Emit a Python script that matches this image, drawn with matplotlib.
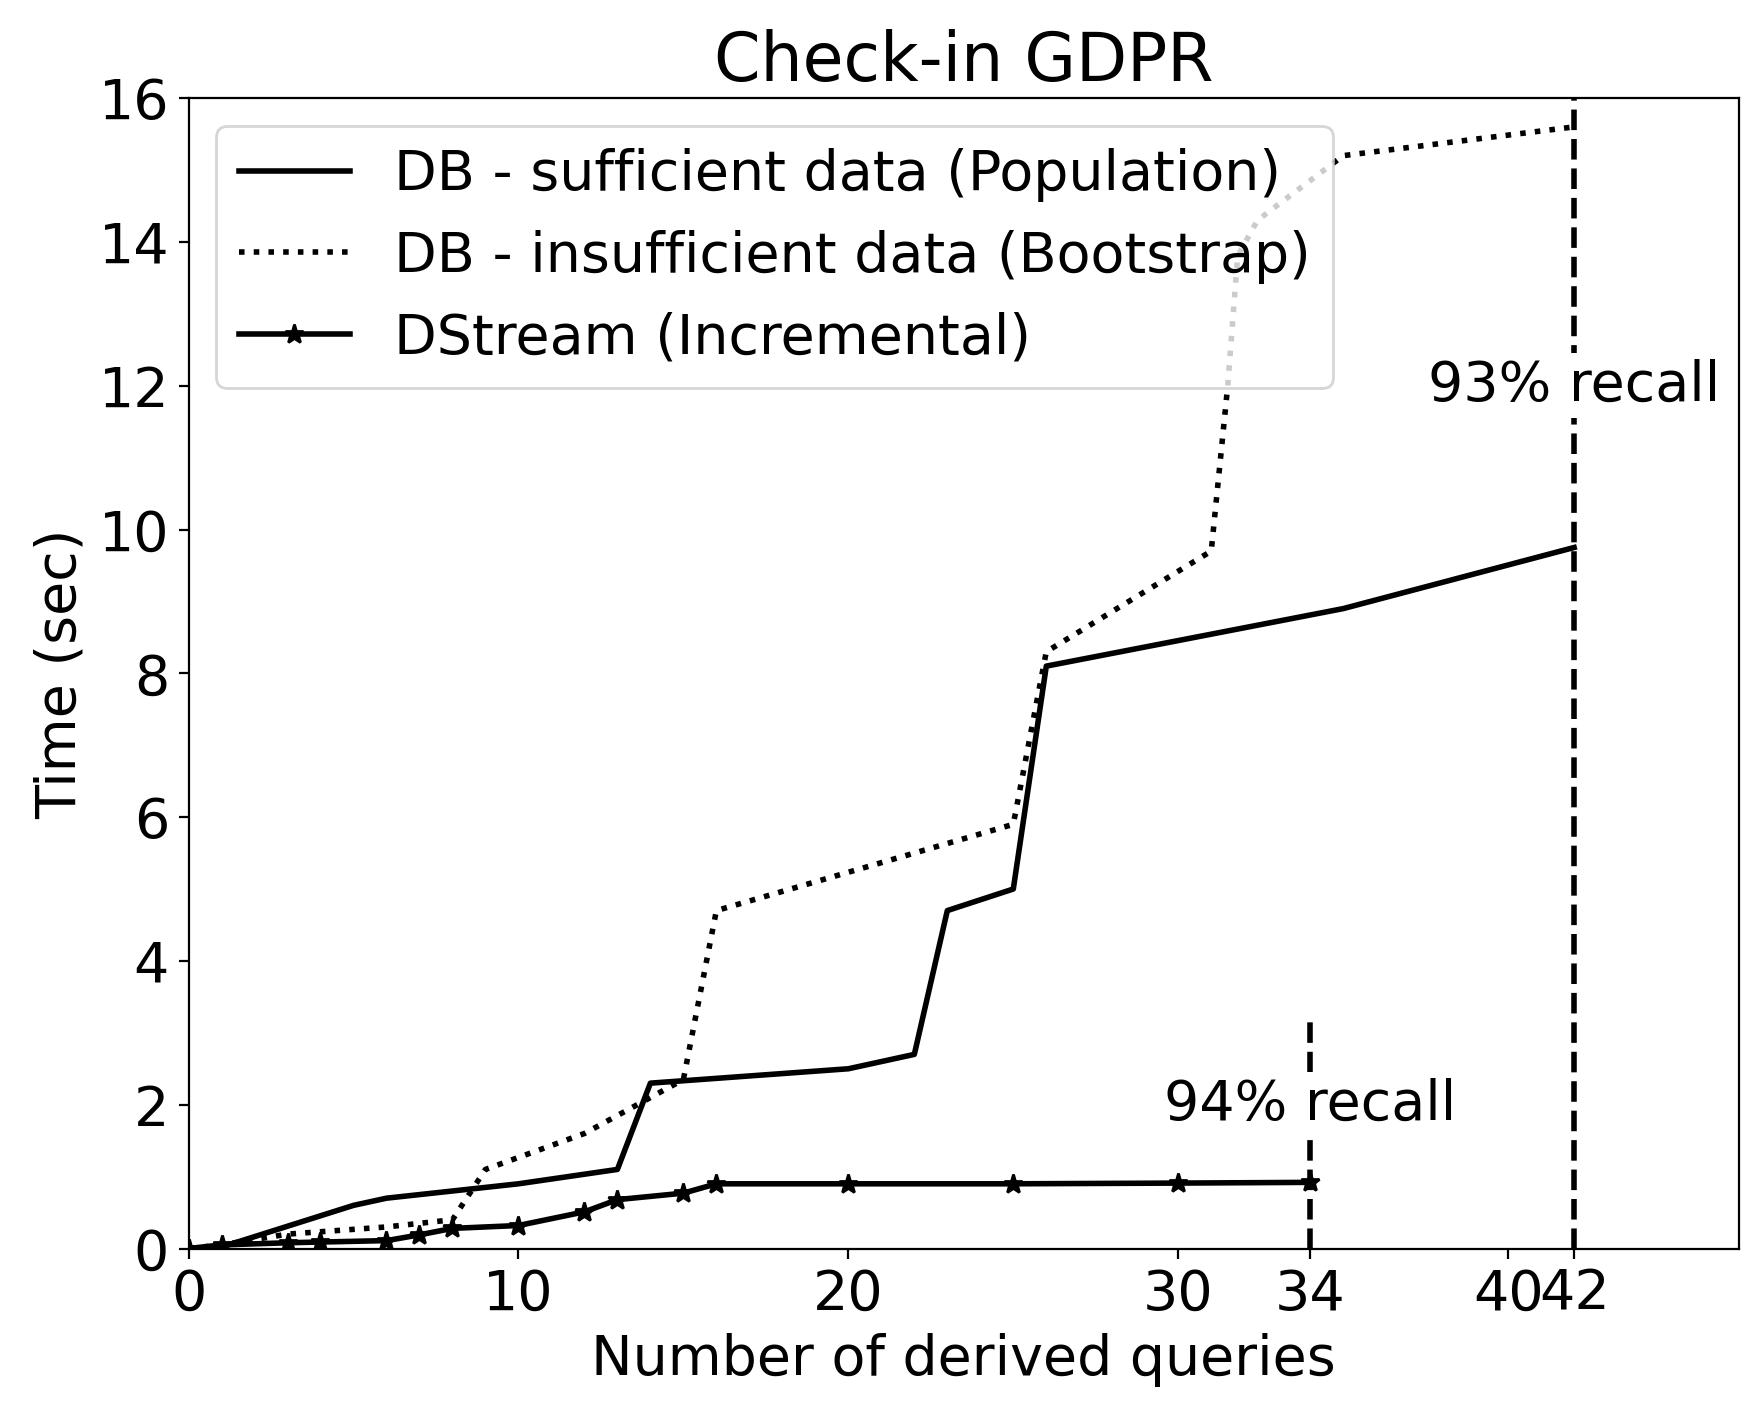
import numpy as np
import matplotlib
matplotlib.use("Agg")
import matplotlib.pyplot as plt

# DB - sufficient data (Population)
pop_x = [0, 1, 5, 6, 10, 13, 14, 20, 22, 23, 25, 26, 35, 42]
pop_y = [0, 0.02, 0.6, 0.7, 0.9, 1.1, 2.3, 2.5, 2.7, 4.7, 5.0, 8.1, 8.9, 9.75]

# DB - insufficient data (Bootstrap)
boot_x = [0, 1, 3, 6, 8, 9, 12, 13, 15, 16, 25, 26, 31, 31.5, 31.8, 32.4, 35, 42]
boot_y = [0, 0.05, 0.2, 0.3, 0.4, 1.1, 1.6, 1.85, 2.35, 4.7, 5.9, 8.3, 9.7, 12.0, 13.8, 14.3, 15.2, 15.6]

# DStream (Incremental)
ds_x = [0, 1, 3, 4, 6, 7, 8, 10, 12, 13, 15, 16, 20, 25, 30, 34]
ds_y = [0, 0.05, 0.08, 0.09, 0.11, 0.19, 0.28, 0.32, 0.51, 0.68, 0.77, 0.9, 0.9, 0.9, 0.91, 0.92]

recall_x = [34, 42]
recall_top = [3.2, 16]
recall_txt = ["94% recall", "93% recall"]
recall_txt_y = [2.0, 12.0]

xticks = [0, 10, 20, 30, 34, 40, 42]

fig, ax = plt.subplots(figsize=(8.81, 7.11), dpi=200)
fig.subplots_adjust(left=0.107, right=0.987, top=0.931, bottom=0.122)

ax.plot(pop_x, pop_y, color="black", linestyle="-", lw=2, label="DB - sufficient data (Population)")
ax.plot(boot_x, boot_y, color="black", linestyle=":", lw=2, label="DB - insufficient data (Bootstrap)")
ax.plot(ds_x, ds_y, color="black", linestyle="-", lw=2, marker="*", markersize=7,
        label="DStream (Incremental)")

for xv, top, txt, ty in zip(recall_x, recall_top, recall_txt, recall_txt_y):
    ax.plot([xv, xv], [0, top], color="black", linestyle="--", lw=2)
    ax.text(xv, ty, txt, fontsize=20, ha="center", va="center",
            bbox=dict(facecolor="white", edgecolor="none", pad=2))

ax.set_xlim(0, 47)
ax.set_ylim(0, 16)
ax.set_xticks(xticks)
ax.set_yticks(np.arange(0, 17, 2))
ax.tick_params(labelsize=20)
ax.set_xlabel("Number of derived queries", fontsize=20)
ax.set_ylabel("Time (sec)", fontsize=20)
ax.set_title("Check-in GDPR", fontsize=24)
ax.legend(loc="upper left", fontsize=20)

plt.savefig("out.png", dpi=200)
